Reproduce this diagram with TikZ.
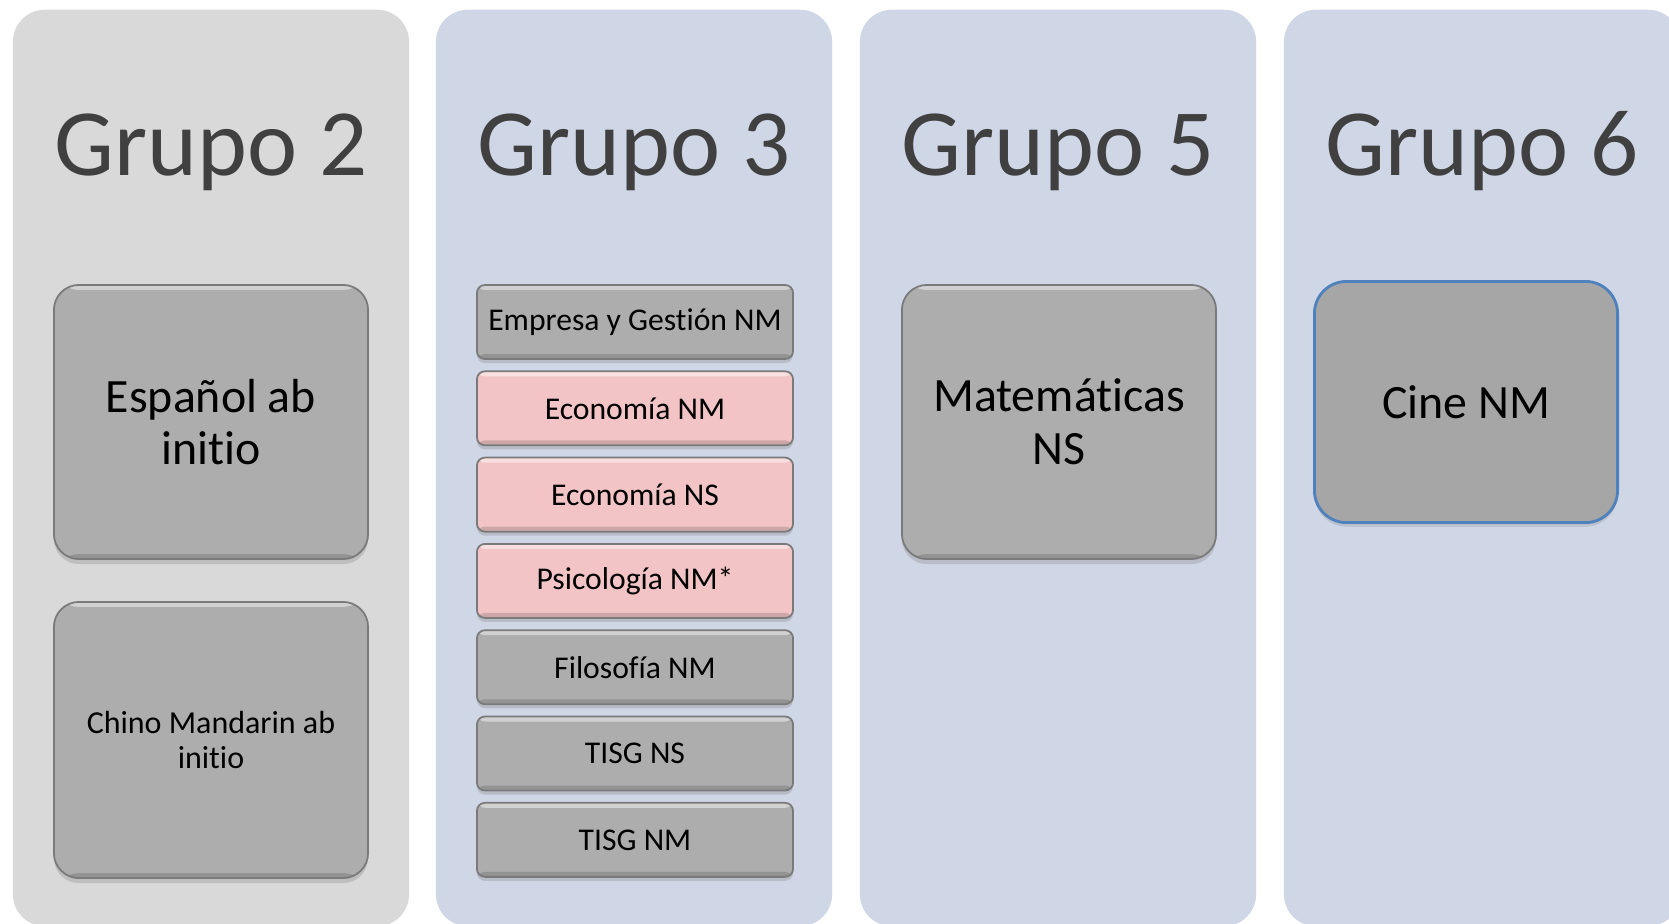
\documentclass[tikz,border=0pt]{standalone}
\usepackage{fontspec}
\setmainfont[Ligatures=NoCommon]{Carlito}
\usetikzlibrary{positioning,shadows}

\definecolor{colgray}{HTML}{D9D9D9}
\definecolor{colblue}{HTML}{CFD6E6}
\definecolor{boxgray}{HTML}{ADADAD}
\definecolor{boxpink}{HTML}{F2C4C5}
\definecolor{edgegray}{HTML}{7A7A7A}
\definecolor{cinegray}{HTML}{A6A6A6}
\definecolor{cineblue}{HTML}{4F81BD}
\definecolor{titlegray}{HTML}{404040}

\begin{document}
\begin{tikzpicture}[
	x=0.01cm, y=-0.01cm,
	colbox/.style={rectangle, rounded corners=0.32cm, minimum width=3.96cm, minimum height=9.16cm, inner sep=0pt},
	grupo/.style={font=\fontsize{27}{32}\selectfont, text=titlegray, anchor=base},
	bevel/.style={path picture={
		\fill[white,opacity=0.45] (path picture bounding box.north west) rectangle ([yshift=-0.05cm]path picture bounding box.north east);
		\fill[black,opacity=0.15] (path picture bounding box.south west) rectangle ([yshift=0.05cm]path picture bounding box.south east);}},
	bigbox/.style={rectangle, rounded corners=0.25cm, minimum width=3.14cm, minimum height=2.74cm, fill=boxgray, draw=edgegray, line width=0.5pt, align=center, font=\fontsize{13.6}{15}\selectfont, bevel, drop shadow={shadow xshift=0pt, shadow yshift=-0.05cm, opacity=0.3}},
	listbox/.style={rectangle, rounded corners=0.08cm, minimum width=3.16cm, minimum height=0.74cm, inner xsep=1pt, fill=boxgray, draw=edgegray, line width=0.5pt, font=\fontsize{9}{11}\selectfont, bevel, drop shadow={shadow xshift=0pt, shadow yshift=-0.04cm, opacity=0.3}},
	pinkbox/.style={listbox, fill=boxpink},
	node distance=0.105cm
	]
	\useasboundingbox (0,0) rectangle (1669,924);
	\fill[white] (0,0) rectangle (1669,924);
	%Columns
	\node[colbox, fill=colgray] (col2) at (211,468) {};
	\node[colbox, fill=colblue] (col3) at (634,468) {};
	\node[colbox, fill=colblue] (col5) at (1058,468) {};
	\node[colbox, fill=colblue] (col6) at (1482,468) {};
	%Titles
	\node[grupo] (t2) at (211,175) {Grupo 2};
	\node[grupo] (t3) at (634,175) {Grupo 3};
	\node[grupo] (t5) at (1058,175) {Grupo 5};
	\node[grupo] (t6) at (1482,175) {Grupo 6};
	%Grupo 2
	\node[bigbox] (Espanol) at (211,422) {Español ab\\initio};
	\node[bigbox, minimum height=2.76cm, font=\fontsize{9.1}{10}\selectfont] (Chino) at (211,740) {Chino Mandarin ab\\initio};
	%Grupo 3
	\node[listbox] (Empresa) at (635,322) {Empresa y Gestión NM};
	\node[pinkbox, below=of Empresa] (EconNM) {Economía NM};
	\node[pinkbox, below=of EconNM] (EconNS) {Economía NS};
	\node[pinkbox, below=of EconNS] (Psico) {Psicología NM*};
	\node[listbox, below=of Psico] (Filo) {Filosofía NM};
	\node[listbox, below=of Filo] (TisgNS) {TISG NS};
	\node[listbox, below=of TisgNS] (TisgNM) {TISG NM};
	%Grupo 5
	\node[bigbox] (Mate) at (1059,422) {Matemáticas\\NS};
	%Grupo 6
	\node[rectangle, rounded corners=0.32cm, minimum width=3.03cm, minimum height=2.41cm, fill=cinegray, draw=cineblue, line width=0.8pt, font=\fontsize{13.6}{15}\selectfont, drop shadow={shadow xshift=0pt, shadow yshift=-0.04cm, opacity=0.25}] (Cine) at (1466,402) {Cine NM};
\end{tikzpicture}
\end{document}
